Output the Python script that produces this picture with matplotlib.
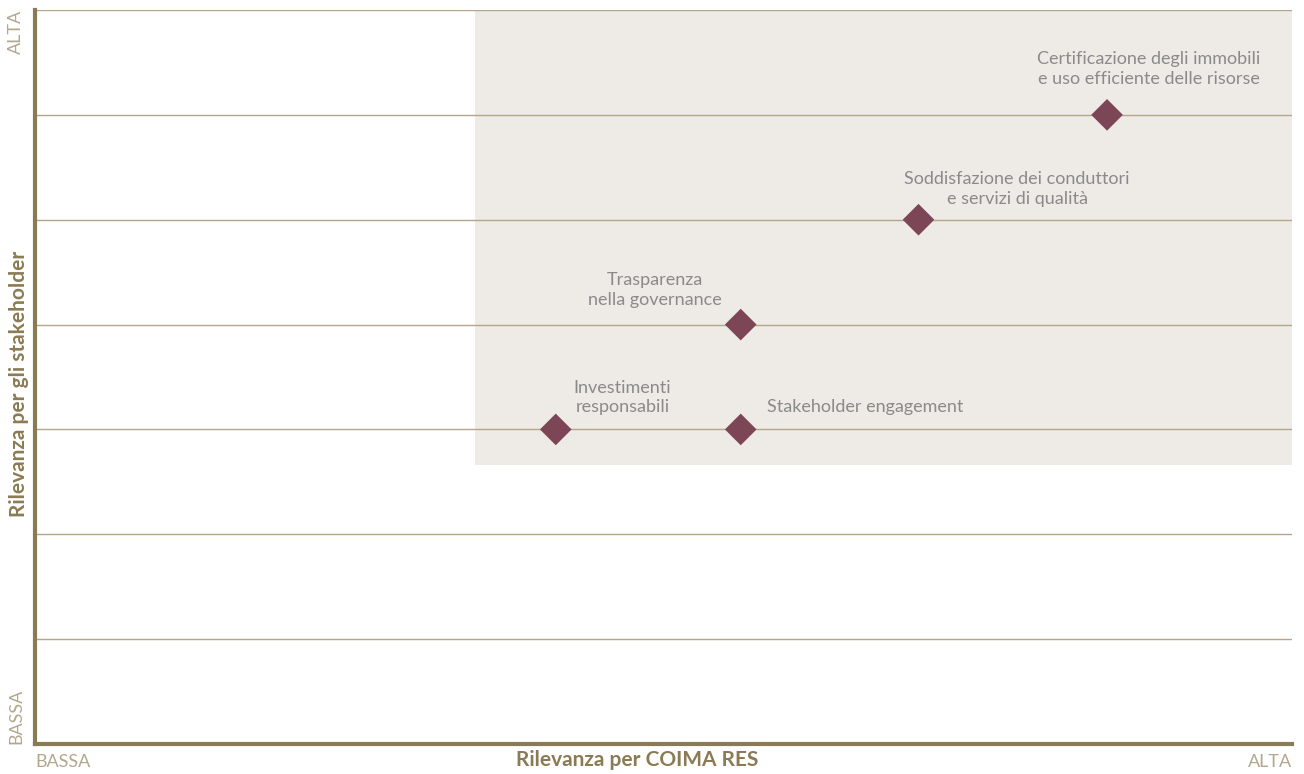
import matplotlib.pyplot as plt

# Topics of the materiality matrix
topics = ["Investimenti\nresponsabili",
          "Stakeholder engagement",
          "Trasparenza\nnella governance",
          "Soddisfazione dei conduttori\ne servizi di qualità",
          "Certificazione degli immobili\ne uso efficiente delle risorse"]

# Relevance for COIMA RES (x) and for stakeholders (y), scale 0-7
rel_coima = [2.90, 3.93, 3.93, 4.92, 5.97]
rel_stake = [3.0, 3.0, 4.0, 5.0, 6.0]

# label offsets from marker (points) and alignment
offsets = [(48, 23), (19, 16), (-62, 25), (71, 22), (30, 33)]
aligns = ["center", "left", "center", "center", "center"]

# highlighted (material) area
shade_x = [2.45, 7.0]
shade_y = [2.66, 7.0]

axis_col = '#8b7b55'
grid_col = '#b3a68a'
label_col = '#8a8a8a'
corner_col = '#b3a78d'
marker_col = '#7d4656'

plt.rcParams['font.family'] = ['Lato', 'DejaVu Sans']

fig = plt.figure(figsize=(13.04, 7.74), dpi=100)
ax = fig.add_axes([35 / 1304, 30 / 774, 1257 / 1304, 734 / 774])
ax.set_xlim(0, 7)
ax.set_ylim(0, 7)

ax.axvspan(shade_x[0], shade_x[1], ymin=shade_y[0] / 7, ymax=shade_y[1] / 7,
           color='#eeebe6', lw=0, zorder=0)

for yy in range(1, 7):
    ax.axhline(yy, color=grid_col, lw=1.0, zorder=1)
ax.axhline(7, color=grid_col, lw=1.0, zorder=1)

ax.scatter(rel_coima, rel_stake, marker='D', s=260, color=marker_col,
           edgecolor='none', zorder=3)

for i in range(len(topics)):
    ax.annotate(topics[i], (rel_coima[i], rel_stake[i]), xytext=offsets[i],
                textcoords='offset points', ha=aligns[i], va='center',
                fontsize=13, color=label_col, linespacing=1.3)

for s in ['top', 'right']:
    ax.spines[s].set_visible(False)
for s in ['left', 'bottom']:
    ax.spines[s].set_color(axis_col)
    ax.spines[s].set_linewidth(3)
ax.set_xticks([])
ax.set_yticks([])

ax.set_xlabel("Rilevanza per COIMA RES", fontsize=15, fontweight='bold',
              color=axis_col)
ax.xaxis.set_label_coords(0.479, -0.008, transform=ax.transAxes)
ax.xaxis.label.set_va('top')
ax.set_ylabel("Rilevanza per gli stakeholder", fontsize=15, fontweight='bold',
              color=axis_col)
ax.yaxis.set_label_coords(-0.013, 0.49, transform=ax.transAxes)
ax.yaxis.label.set_va('center')

# corner labels
ax.text(0, -0.1, "BASSA", ha='left', va='top',
        fontsize=13, color=corner_col)
ax.text(7, -0.1, "ALTA", ha='right', va='top',
        fontsize=13, color=corner_col)
ax.text(-0.06, 0, "BASSA", ha='right', va='bottom', rotation=90,
        fontsize=13, color=corner_col)
ax.text(-0.06, 7, "ALTA", ha='right', va='top', rotation=90,
        fontsize=13, color=corner_col)

fig.savefig("out.png", dpi=100)
